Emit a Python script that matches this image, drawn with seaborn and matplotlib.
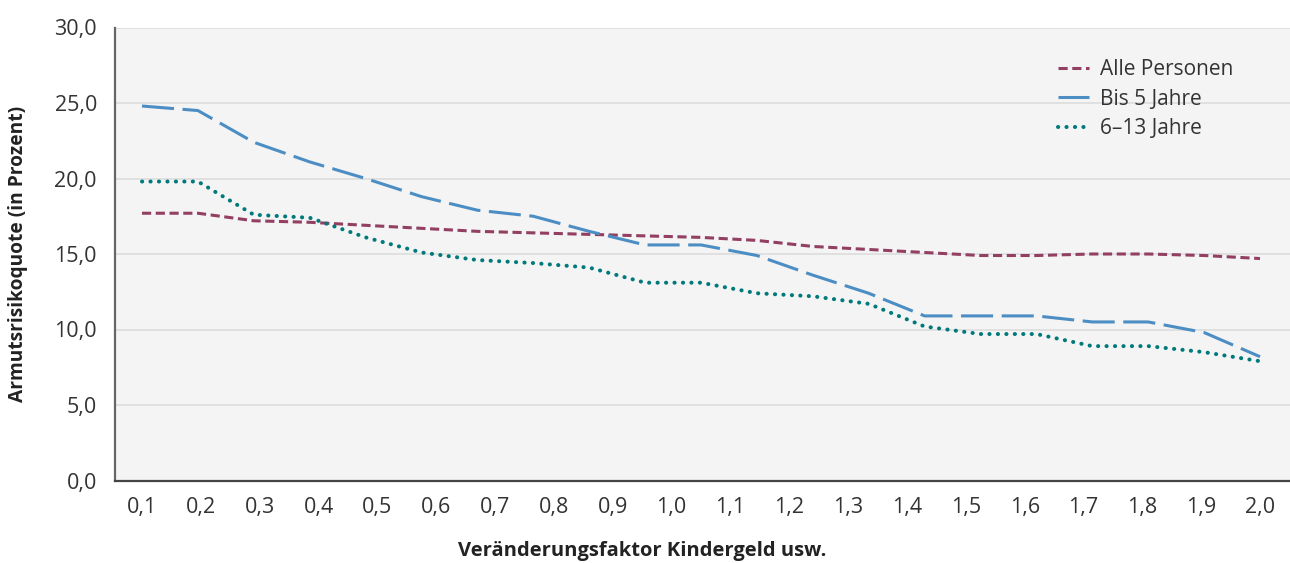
import numpy as np
import pandas as pd
import matplotlib
matplotlib.use("Agg")
import matplotlib.pyplot as plt
from matplotlib.ticker import MultipleLocator, FixedLocator
import seaborn as sns

# ---- data ----
tick_labels = ["0,1", "0,2", "0,3", "0,4", "0,5", "0,6", "0,7", "0,8", "0,9", "1,0",
               "1,1", "1,2", "1,3", "1,4", "1,5", "1,6", "1,7", "1,8", "1,9", "2,0"]
tick_values = [0.1, 0.2, 0.3, 0.4, 0.5, 0.6, 0.7, 0.8, 0.9, 1.0,
               1.1, 1.2, 1.3, 1.4, 1.5, 1.6, 1.7, 1.8, 1.9, 2.0]
series_names = ["Alle Personen", "Bis 5 Jahre", "6–13 Jahre"]
alle_personen = [17.7, 17.7, 17.2, 17.1, 16.9, 16.7, 16.5, 16.4, 16.3, 16.2, 16.1,
                 15.9, 15.5, 15.3, 15.1, 14.9, 14.9, 15.0, 15.0, 14.9, 14.7]
bis_5_jahre = [24.8, 24.5, 22.4, 21.1, 20.0, 18.8, 17.9, 17.5, 16.5, 15.6, 15.6,
               14.9, 13.6, 12.4, 10.9, 10.9, 10.9, 10.5, 10.5, 9.8, 8.2]
jahre_6_13 = [19.8, 19.8, 17.6, 17.4, 16.1, 15.1, 14.6, 14.4, 14.1, 13.1, 13.1,
              12.4, 12.2, 11.7, 10.2, 9.7, 9.7, 8.9, 8.9, 8.5, 7.9]
y_ticks = [0, 5, 10, 15, 20, 25, 30]
y_tick_labels = ["0,0", "5,0", "10,0", "15,0", "20,0", "25,0", "30,0"]

# 21 data points spread evenly over the labelled range
x_points = np.linspace(tick_values[0], tick_values[-1], len(alle_personen))

df = pd.DataFrame({
    "x": np.tile(x_points, 3),
    "value": alle_personen + bis_5_jahre + jahre_6_13,
    "series": np.repeat(series_names, len(x_points)),
})

# ---- style ----
sns.set_style("white")
plt.rcParams["font.family"] = ["Open Sans", "DejaVu Sans"]
text_color = "#333333"

colors = {"Alle Personen": "#923F61", "Bis 5 Jahre": "#4C8EC4", "6–13 Jahre": "#00797A"}
styles = {
    "Alle Personen": dict(linewidth=2.2, linestyle=(0, (3.0, 1.5)), dash_capstyle="butt"),
    "Bis 5 Jahre": dict(linewidth=2.2, linestyle=(0, (10.5, 2.8)), dash_capstyle="butt"),
    "6–13 Jahre": dict(linewidth=2.9, linestyle=(0, (0.05, 2.05)), dash_capstyle="round"),
}

fig = plt.figure(figsize=(12.9, 5.63), dpi=100)
fig.patch.set_facecolor("white")
W, H = 1290, 563
ax_left, ax_right, ax_top, ax_bottom = 115, 1290, 27.5, 480.5
ax = fig.add_axes([ax_left / W, 1 - ax_bottom / H, (ax_right - ax_left) / W, (ax_bottom - ax_top) / H])
ax.set_facecolor("#F4F4F4")

for name in series_names:
    sub = df[df["series"] == name]
    sns.lineplot(data=sub, x="x", y="value", ax=ax, color=colors[name],
                 label=name, **styles[name])

# axes ranges
px_per_unit = (1260 - 142) / (tick_values[-1] - tick_values[0])
ax.set_xlim(tick_values[0] - (142 - ax_left) / px_per_unit,
            tick_values[-1] + (ax_right - 1260) / px_per_unit)
ax.set_ylim(0, 30)

ax.set_xticks(tick_values)
ax.set_xticklabels(tick_labels)
ax.xaxis.set_minor_locator(FixedLocator([v + 0.05 for v in tick_values[:-1]]))
ax.set_yticks(y_ticks)
ax.set_yticklabels(y_tick_labels)
ax.yaxis.set_minor_locator(MultipleLocator(2.5))

ax.grid(axis="y", which="major", color="#DEDEDE", linewidth=1.3)
ax.grid(axis="x", visible=False)
ax.set_axisbelow(True)

for s in ["top", "right"]:
    ax.spines[s].set_visible(False)
ax.spines["left"].set_color("#666666")
ax.spines["left"].set_linewidth(1.6)
ax.spines["bottom"].set_color("#444444")
ax.spines["bottom"].set_linewidth(1.6)

ax.tick_params(axis="both", which="major", length=0, labelsize=15.5, labelcolor=text_color)
ax.tick_params(axis="y", which="major", pad=13)
ax.tick_params(axis="x", which="major", pad=12)
ax.tick_params(axis="y", which="minor", length=3, direction="in", color="#999999", width=1)
ax.tick_params(axis="x", which="minor", length=3, direction="in", color="#cccccc", width=1)

ax.set_xlabel("")
ax.set_ylabel("")
fig.text(18 / W, 1 - 254 / H, "Armutsrisikoquote (in Prozent)", rotation=90,
         ha="center", va="center", fontsize=13.8, fontweight="bold", color="#222222")
fig.text(642 / W, 1 - 551 / H, "Veränderungsfaktor Kindergeld usw.",
         ha="center", va="center", fontsize=14.5, fontweight="bold", color="#222222")

leg = ax.legend(loc="upper left", bbox_to_anchor=((1058 - ax_left) / (ax_right - ax_left),
                                                   (ax_bottom - 59) / (ax_bottom - ax_top)),
                frameon=False, fontsize=15, handlelength=1.5, handletextpad=0.5,
                labelspacing=0.42, borderpad=0, borderaxespad=0)
for t in leg.get_texts():
    t.set_color(text_color)

fig.savefig("out.png", dpi=100, facecolor="white")
